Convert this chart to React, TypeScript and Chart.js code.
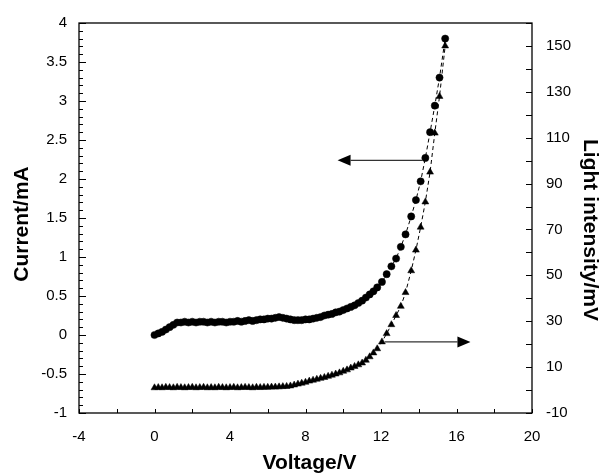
import React, { useEffect, useRef } from "react";
import { Chart, registerables } from "chart.js";

Chart.register(...registerables);

// ---- data ----
const voltage = [
  0, 0.2, 0.4, 0.6, 0.8, 1.0, 1.2, 1.4, 1.6, 1.8,
  2.0, 2.2, 2.4, 2.6, 2.8, 3.0, 3.2, 3.4, 3.6, 3.8,
  4.0, 4.2, 4.4, 4.6, 4.8, 5.0, 5.2, 5.4, 5.6, 5.8,
  6.0, 6.2, 6.4, 6.6, 6.8, 7.0, 7.2, 7.4, 7.6, 7.8,
  8.0, 8.2, 8.4, 8.6, 8.8, 9.0, 9.2, 9.4, 9.6, 9.8,
  10.0, 10.2, 10.4, 10.6, 10.8, 11.0, 11.2, 11.4, 11.6, 11.8,
  12.05, 12.3, 12.55, 12.8, 13.05, 13.3, 13.6, 13.85, 14.1, 14.35, 14.6, 14.85, 15.1, 15.4,
];

const current = [
  0.0, 0.02, 0.04, 0.07, 0.1, 0.13, 0.16, 0.16, 0.17, 0.16,
  0.17, 0.16, 0.17, 0.17, 0.16, 0.17, 0.16, 0.17, 0.17, 0.16,
  0.17, 0.17, 0.18, 0.17, 0.18, 0.19, 0.18, 0.19, 0.2, 0.2,
  0.21, 0.21, 0.22, 0.23, 0.22, 0.21, 0.2, 0.19, 0.19, 0.19,
  0.2, 0.2, 0.21, 0.22, 0.23, 0.25, 0.26, 0.27, 0.29, 0.3,
  0.32, 0.34, 0.36, 0.38, 0.41, 0.44, 0.48, 0.52, 0.56, 0.61,
  0.68, 0.78, 0.88, 0.98, 1.13, 1.29, 1.52, 1.73, 1.97, 2.27, 2.6, 2.94, 3.3, 3.8,
];

const light = [
  1.0, 1.1, 1.0, 1.2, 1.1, 1.0, 1.2, 1.1, 1.0, 1.1,
  1.2, 1.0, 1.1, 1.2, 1.0, 1.1, 1.0, 1.2, 1.1, 1.0,
  1.1, 1.2, 1.0, 1.1, 1.2, 1.1, 1.0, 1.2, 1.1, 1.2,
  1.2, 1.3, 1.3, 1.4, 1.5, 1.6, 1.8, 2.2, 2.6, 3.0,
  3.4, 3.9, 4.3, 4.7, 5.1, 5.5, 6.0, 6.5, 7.0, 7.5,
  8.2, 8.8, 9.6, 10.3, 11.0, 11.8, 13.0, 14.5, 16.2, 18.0,
  21.0, 24.6, 28.5, 32.5, 36.5, 42.5, 52.0, 61.0, 71.0, 82.0, 95.0, 112.0, 128.0, 150.0,
];

const voltageTickLabels = ["-4", "0", "4", "8", "12", "16", "20"];
const currentTickLabels = ["-1", "-0.5", "0", "0.5", "1", "1.5", "2", "2.5", "3", "3.5", "4"];
const lightTickLabels = ["-10", "10", "30", "50", "70", "90", "110", "130", "150"];

// arrows: [fromX, toX, y] (toX = arrow tip)
const currentArrow = [14.2, 9.7, 2.24];
const lightArrow = [12.2, 16.74, 21];

const FONT = "'Liberation Sans', Arial, Helvetica, sans-serif";

function labelFor(list: string[], v: number) {
  const hit = list.find((s) => Math.abs(Number(s) - v) < 1e-6);
  return hit === undefined ? "" : hit;
}

const decorPlugin = {
  id: "decor",
  afterDraw(chart: any) {
    const ctx = chart.ctx as CanvasRenderingContext2D;
    const { left, right, top, bottom } = chart.chartArea;
    const sx = chart.scales.x;
    const sy = chart.scales.y;
    const sy2 = chart.scales.y2;
    ctx.save();
    ctx.strokeStyle = "#000";
    ctx.lineWidth = 1.3;
    // frame
    ctx.strokeRect(left, top, right - left, bottom - top);
    // ticks
    ctx.lineWidth = 1;
    ctx.beginPath();
    sy.ticks.forEach((t: any) => {
      const py = Math.round(sy.getPixelForValue(t.value)) + 0.5;
      const len = t.label ? 7 : 4;
      ctx.moveTo(left, py);
      ctx.lineTo(left + len, py);
    });
    sy2.ticks.forEach((t: any) => {
      const py = Math.round(sy2.getPixelForValue(t.value)) + 0.5;
      ctx.moveTo(right, py);
      ctx.lineTo(right - 6, py);
    });
    sx.ticks.forEach((t: any) => {
      const px = Math.round(sx.getPixelForValue(t.value)) + 0.5;
      ctx.moveTo(px, bottom);
      ctx.lineTo(px, bottom - 4);
    });
    ctx.stroke();

    // arrows
    const drawArrow = (scaleY: any, a: number[]) => {
      const x0 = sx.getPixelForValue(a[0]);
      const x1 = sx.getPixelForValue(a[1]);
      const y = scaleY.getPixelForValue(a[2]);
      const dir = x1 > x0 ? 1 : -1;
      const head = 13;
      ctx.strokeStyle = "#333";
      ctx.lineWidth = 1.2;
      ctx.beginPath();
      ctx.moveTo(x0, y);
      ctx.lineTo(x1 - dir * head, y);
      ctx.stroke();
      ctx.fillStyle = "#000";
      ctx.beginPath();
      ctx.moveTo(x1, y);
      ctx.lineTo(x1 - dir * head, y - 5.5);
      ctx.lineTo(x1 - dir * head, y + 5.5);
      ctx.closePath();
      ctx.fill();
    };
    drawArrow(sy, currentArrow);
    drawArrow(sy2, lightArrow);

    // axis titles
    ctx.fillStyle = "#000";
    ctx.font = `bold 21px ${FONT}`;
    ctx.textAlign = "center";
    ctx.textBaseline = "middle";
    ctx.fillText("Voltage/V", (left + right) / 2 + 4, bottom + 50);
    ctx.save();
    ctx.translate(22, (top + bottom) / 2 + 6);
    ctx.rotate(-Math.PI / 2);
    ctx.fillText("Current/mA", 0, 0);
    ctx.restore();
    ctx.save();
    ctx.translate(590, (top + bottom) / 2 + 12);
    ctx.rotate(Math.PI / 2);
    ctx.fillText("Light intensity/mV", 0, 0);
    ctx.restore();
    ctx.restore();
  },
};

export default function App() {
  const ref = useRef<HTMLCanvasElement>(null);
  useEffect(() => {
    document.body.style.margin = "0";
    const canvas = ref.current;
    if (!canvas) return;
    const chart = new Chart(canvas, {
      type: "scatter",
      data: {
        datasets: [
          {
            label: "Current",
            data: voltage.map((v, i) => ({ x: v, y: current[i] })),
            yAxisID: "y",
            showLine: true,
            borderColor: "#000",
            borderWidth: 1,
            borderDash: [4, 3],
            pointStyle: "circle",
            pointRadius: 3.6,
            pointBackgroundColor: "#000",
            pointBorderColor: "#000",
            pointBorderWidth: 0.5,
          },
          {
            label: "Light",
            data: voltage.map((v, i) => ({ x: v, y: light[i] })),
            yAxisID: "y2",
            showLine: true,
            borderColor: "#000",
            borderWidth: 1,
            borderDash: [4, 3],
            pointStyle: "triangle",
            pointRadius: 4,
            pointBackgroundColor: "#000",
            pointBorderColor: "#000",
            pointBorderWidth: 0.5,
          },
        ],
      },
      options: {
        animation: false,
        responsive: false,
        maintainAspectRatio: false,
        layout: { padding: { top: 16, left: 0, right: 0, bottom: 0 } },
        plugins: { legend: { display: false }, tooltip: { enabled: false } },
        scales: {
          x: {
            type: "linear",
            position: "bottom",
            min: -4,
            max: 20,
            grid: { display: false, drawTicks: false },
            border: { display: false },
            ticks: {
              stepSize: 2,
              autoSkip: false,
              maxRotation: 0,
              padding: 15,
              color: "#000",
              font: { family: FONT, size: 15 },
              callback: (v: any) => labelFor(voltageTickLabels, Number(v)),
            },
            afterFit: (s: any) => {
              s.height = 60;
            },
          },
          y: {
            type: "linear",
            position: "left",
            min: -1,
            max: 4,
            grid: { display: false, drawTicks: false },
            border: { display: false },
            ticks: {
              stepSize: 0.1,
              autoSkip: false,
              padding: 12,
              color: "#000",
              font: { family: FONT, size: 15 },
              callback: (v: any) => labelFor(currentTickLabels, Number(v)),
            },
            afterFit: (s: any) => {
              s.width = 79;
            },
          },
          y2: {
            type: "linear",
            position: "right",
            min: -10,
            max: 160,
            grid: { display: false, drawTicks: false },
            border: { display: false },
            ticks: {
              stepSize: 10,
              autoSkip: false,
              padding: 14,
              color: "#000",
              font: { family: FONT, size: 15 },
              callback: (v: any) => labelFor(lightTickLabels, Number(v)),
            },
            afterFit: (s: any) => {
              s.width = 69;
            },
          },
        },
      },
      plugins: [decorPlugin],
    } as any);
    return () => chart.destroy();
  }, []);
  return (
    <div style={{ position: "absolute", left: 0, top: 0, width: 601, height: 473 }}>
      <canvas ref={ref} width={601} height={473} />
    </div>
  );
}
